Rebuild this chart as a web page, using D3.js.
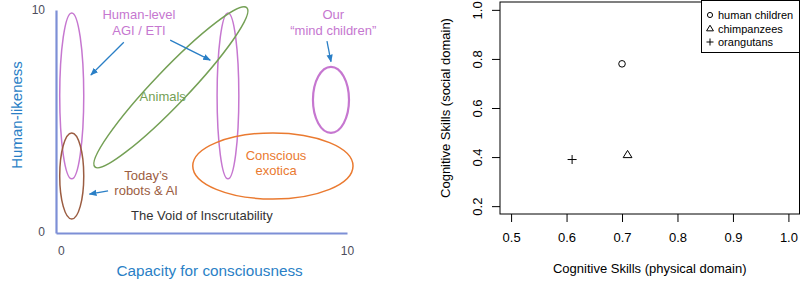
<!DOCTYPE html>
<html>
<head>
<meta charset="utf-8">
<script src="https://cdn.jsdelivr.net/npm/d3@7"></script>
<style>
  body { margin: 0; background: #fff; }
  svg { display: block; font-family: "Liberation Sans", Arial, sans-serif; }
</style>
</head>
<body>
<div id="chart"></div>
<script>
// left panel: regions on a 0-10 x 0-10 grid (consciousness vs human-likeness)
var regionNames = ["AGI left", "Today's robots", "AGI right", "Conscious exotica", "Mind children"];
var regionCx = [0.38, 0.38, 5.84, 7.41, 9.44];
var regionCy = [6.13, 2.52, 6.13, 2.97, 5.95];
var regionRx = [0.42, 0.42, 0.38, 2.80, 0.63];
var regionRy = [3.74, 1.94, 3.74, 1.49, 1.49];
var regionKind = ["agi", "robots", "agi", "exotica", "mind"];

// animals: long tilted ellipse, ends of its long axis + half width (x units)
var animalsEnds = [[1.19, 2.93], [6.50, 10.10]];
var animalsHalfWidth = 0.6;

var labelLines = [["Human-level", "AGI / ETI"], ["Our", "\u201cmind children\u201d"], ["Animals"],
                  ["Conscious", "exotica"], ["Today\u2019s", "robots & AI"], ["The Void of Inscrutability"]];
var labelX = [2.73, 9.52, 3.56, 7.52, 2.98, 4.93];
var labelY = [9.58, 9.58, 5.90, 3.25, 2.35, 0.55];
var labelKind = ["agi", "mind", "animals", "exotica", "robots", "void"];

var arrows = [[[2.20, 8.55], [1.05, 7.07]],
              [[3.82, 8.64], [5.22, 7.74]],
              [[9.30, 8.60], [9.44, 7.67]],
              [[1.65, 1.85], [1.00, 1.70]]];

// right panel: cognitive skills
var species = ["human children", "chimpanzees", "orangutans"];
var physical = [0.70, 0.71, 0.61];
var social = [0.78, 0.41, 0.39];
var xTicks = [0.5, 0.6, 0.7, 0.8, 0.9, 1.0];
var yTicks = [0.2, 0.4, 0.6, 0.8, 1.0];

var colors = {agi: "#c677d0", robots: "#9b5d42", exotica: "#ea7a30", mind: "#c677d0",
              animals: "#74a055", void: "#333333"};
var blue = "#2a7fc6";

var svg = d3.select("#chart").append("svg")
    .attr("width", 801)
    .attr("height", 284);

// ---------- left panel ----------
var xL = d3.scaleLinear().domain([-0.17, 10]).range([56, 347]);
var yL = d3.scaleLinear().domain([-0.05, 10]).range([233, 10]);

var left = svg.append("g");

left.append("defs").append("marker")
    .attr("id", "arr")
    .attr("viewBox", "0 0 10 10")
    .attr("refX", 9).attr("refY", 5)
    .attr("markerWidth", 6).attr("markerHeight", 6)
    .attr("orient", "auto")
    .append("path")
    .attr("d", "M0,1 L10,5 L0,9 z")
    .attr("fill", blue);

var xAxisL = d3.axisBottom(xL).tickValues([0, 10]).tickSize(0).tickSizeOuter(0).tickPadding(13);
var yAxisL = d3.axisLeft(yL).tickValues([0, 10]).tickSize(0).tickSizeOuter(0).tickPadding(11);

var gx = left.append("g").attr("transform", "translate(0," + yL(-0.05) + ")").call(xAxisL);
var gy = left.append("g").attr("transform", "translate(" + xL(-0.17) + ",0)").call(yAxisL);
[gx, gy].forEach(function(g) {
    g.select(".domain").attr("stroke", "#7d8fd6").attr("stroke-width", 2.2);
    g.selectAll("text").attr("fill", "#4d4d5c").style("font-size", "12px");
});

// ellipses
left.selectAll("ellipse.region")
    .data(regionNames)
    .enter()
    .append("ellipse")
    .attr("class", "region")
    .attr("cx", function(d, i) { return xL(regionCx[i]); })
    .attr("cy", function(d, i) { return yL(regionCy[i]); })
    .attr("rx", function(d, i) { return xL(regionRx[i]) - xL(0); })
    .attr("ry", function(d, i) { return yL(0) - yL(regionRy[i]); })
    .attr("fill", "none")
    .attr("stroke", function(d, i) { return colors[regionKind[i]]; })
    .attr("stroke-width", function(d, i) { return regionKind[i] == "mind" ? 2.2 : 1.5; });

var ax0 = xL(animalsEnds[0][0]), ay0 = yL(animalsEnds[0][1]);
var ax1 = xL(animalsEnds[1][0]), ay1 = yL(animalsEnds[1][1]);
var ang = Math.atan2(ay1 - ay0, ax1 - ax0) * 180 / Math.PI;
left.append("ellipse")
    .attr("cx", 0).attr("cy", 0)
    .attr("rx", Math.hypot(ax1 - ax0, ay1 - ay0) / 2)
    .attr("ry", xL(animalsHalfWidth) - xL(0))
    .attr("transform", "translate(" + (ax0 + ax1) / 2 + "," + (ay0 + ay1) / 2 + ") rotate(" + ang + ")")
    .attr("fill", "none")
    .attr("stroke", colors.animals)
    .attr("stroke-width", 1.5);

// arrows
left.selectAll("line.arrow")
    .data(arrows)
    .enter()
    .append("line")
    .attr("class", "arrow")
    .attr("x1", d => xL(d[0][0])).attr("y1", d => yL(d[0][1]))
    .attr("x2", d => xL(d[1][0])).attr("y2", d => yL(d[1][1]))
    .attr("stroke", blue)
    .attr("stroke-width", 1.3)
    .attr("marker-end", "url(#arr)");

// labels
left.selectAll("text.label")
    .data(labelLines)
    .enter()
    .append("text")
    .attr("class", "label")
    .attr("text-anchor", "middle")
    .attr("fill", (d, i) => colors[labelKind[i]])
    .style("font-size", "13px")
    .each(function(d, i) {
        var t = d3.select(this);
        d.forEach(function(line, j) {
            t.append("tspan")
                .attr("x", xL(labelX[i]))
                .attr("y", yL(labelY[i]) + j * 15.5)
                .text(line);
        });
    });

left.append("text")
    .attr("x", xL(5.2)).attr("y", 276)
    .attr("text-anchor", "middle")
    .attr("fill", blue)
    .style("font-size", "15.3px")
    .text("Capacity for consciousness");

left.append("text")
    .attr("transform", "translate(22," + yL(5.27) + ") rotate(-90)")
    .attr("text-anchor", "middle")
    .attr("fill", blue)
    .style("font-size", "15px")
    .text("Human-likeness");

// ---------- right panel ----------
var xR = d3.scaleLinear().domain([0.48, 1.02]).range([500, 799.5]);
var yR = d3.scaleLinear().domain([0.168, 1.032]).range([214, 2]);

var right = svg.append("g");

var gxr = right.append("g").attr("transform", "translate(0,214)")
    .call(d3.axisBottom(xR).tickValues(xTicks).tickFormat(d3.format(".1f")).tickSize(8).tickPadding(11));
var gyr = right.append("g").attr("transform", "translate(500,0)")
    .call(d3.axisLeft(yR).tickValues(yTicks).tickFormat(d3.format(".1f")).tickSize(8));
[gxr, gyr].forEach(function(g) {
    g.select(".domain").remove();
    g.selectAll("line").attr("stroke", "#000");
    g.selectAll("text").attr("fill", "#000").style("font-size", "13px");
});
gyr.selectAll("text")
    .attr("transform", "rotate(-90)")
    .attr("x", 0).attr("y", -18).attr("dy", 0)
    .attr("text-anchor", "middle");

right.append("rect")
    .attr("x", 500).attr("y", yR(1.032))
    .attr("width", 299.5).attr("height", 214 - yR(1.032))
    .attr("fill", "none").attr("stroke", "#000").attr("stroke-width", 1);

right.append("text")
    .attr("x", xR(0.75)).attr("y", 273)
    .attr("text-anchor", "middle")
    .style("font-size", "13px")
    .text("Cognitive Skills (physical domain)");

right.append("text")
    .attr("transform", "translate(450," + yR(0.6) + ") rotate(-90)")
    .attr("text-anchor", "middle")
    .style("font-size", "13px")
    .text("Cognitive Skills (social domain)");

function drawSymbol(g, i, s) {
    if (i == 2) {
        g.append("path").attr("d", "M" + (-4.5 * s) + ",0H" + (4.5 * s) + "M0," + (-4.5 * s) + "V" + (4.5 * s));
    } else if (i == 1) {
        g.append("path").attr("d", "M0," + (-4.2 * s) + "L" + (4.4 * s) + "," + (3 * s) + "L" + (-4.4 * s) + "," + (3 * s) + "Z");
    } else {
        g.append("circle").attr("r", 3.3 * s);
    }
    g.selectAll("*").attr("fill", "none").attr("stroke", "#000").attr("stroke-width", 1);
}

right.selectAll("g.pt")
    .data(species)
    .enter()
    .append("g")
    .attr("class", "pt")
    .attr("transform", (d, i) => "translate(" + xR(physical[i]) + "," + yR(social[i]) + ")")
    .each(function(d, i) { drawSymbol(d3.select(this), i, 1); });

// legend
var legend = right.append("g");
legend.append("rect")
    .attr("x", 701.5).attr("y", 0.5)
    .attr("width", 98).attr("height", 52)
    .attr("fill", "#fff").attr("stroke", "#000");
species.forEach(function(s, i) {
    var g = legend.append("g").attr("transform", "translate(710," + (15 + i * 13.5) + ")");
    drawSymbol(g, i, 0.78);
    g.append("text")
        .attr("x", 8).attr("y", 4)
        .style("font-size", "11px")
        .text(s);
});
</script>
</body>
</html>
